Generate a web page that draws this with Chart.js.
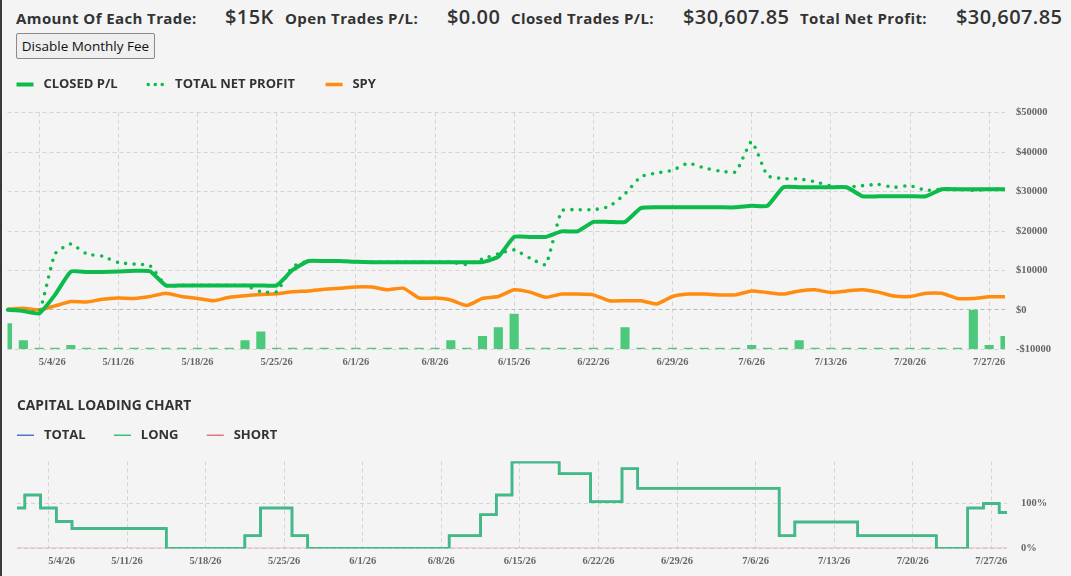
<!DOCTYPE html>
<html lang="en">
  <head>
    <meta charset="UTF-8" />
    <meta name="viewport" content="width=device-width, initial-scale=1.0" />
    <title>Trade Results</title>
    <script src="https://cdn.jsdelivr.net/npm/chart.js"></script>
    <style>
      body {
        margin: 0;
        width: 1071px;
        height: 576px;
        overflow: hidden;
        position: relative;
        background: #f4f4f4;
        font-family: "Open Sans", sans-serif;
        color: #333;
      }
      .edge { position: absolute; left: 0; top: 0; bottom: 0; width: 2px; background: #3a3a3a; }
      .lbl { position: absolute; top: 8px; font-size: 15px; font-weight: 700; letter-spacing: 0.4px; line-height: 20px; white-space: nowrap; }
      .val { position: absolute; top: 4px; font-size: 20px; font-weight: 600; letter-spacing: 0.4px; line-height: 26px; white-space: nowrap; }
      button {
        position: absolute; left: 16px; top: 33px; width: 139px; height: 26px; padding: 0;
        font: 13.5px "Open Sans", sans-serif; color: #111;
        background: #efefef; border: 1px solid #8a8a8a; border-radius: 2px;
      }
      .box { position: absolute; left: 0; width: 1071px; }
    </style>
  </head>
  <body>
    <div class="edge"></div>
    <span class="lbl" style="left: 16px">Amount Of Each Trade:</span>
    <span class="val" style="left: 225px">$15K</span>
    <span class="lbl" style="left: 285px">Open Trades P/L:</span>
    <span class="val" style="left: 447px">$0.00</span>
    <span class="lbl" style="left: 511px">Closed Trades P/L:</span>
    <span class="val" style="left: 683px">$30,607.85</span>
    <span class="lbl" style="left: 800px">Total Net Profit:</span>
    <span class="val" style="left: 956px">$30,607.85</span>
    <button>Disable Monthly Fee</button>

    <div class="box" style="top: 64px; height: 310px"><canvas id="plChart"></canvas></div>
    <div class="box" style="top: 390px; height: 186px"><canvas id="capChart"></canvas></div>

    <script type="module">
      const dates = [
        "4/30/26", "5/1/26",
        "5/4/26", "5/5/26", "5/6/26", "5/7/26", "5/8/26",
        "5/11/26", "5/12/26", "5/13/26", "5/14/26", "5/15/26",
        "5/18/26", "5/19/26", "5/20/26", "5/21/26", "5/22/26",
        "5/25/26", "5/26/26", "5/27/26", "5/28/26", "5/29/26",
        "6/1/26", "6/2/26", "6/3/26", "6/4/26", "6/5/26",
        "6/8/26", "6/9/26", "6/10/26", "6/11/26", "6/12/26",
        "6/15/26", "6/16/26", "6/17/26", "6/18/26", "6/19/26",
        "6/22/26", "6/23/26", "6/24/26", "6/25/26", "6/26/26",
        "6/29/26", "6/30/26", "7/1/26", "7/2/26", "7/3/26",
        "7/6/26", "7/7/26", "7/8/26", "7/9/26", "7/10/26",
        "7/13/26", "7/14/26", "7/15/26", "7/16/26", "7/17/26",
        "7/20/26", "7/21/26", "7/22/26", "7/23/26", "7/24/26",
        "7/27/26", "7/28/26",
      ];
      // only Mondays get a label and a grid line
      const tickDates = [
        "5/4/26", "5/11/26", "5/18/26", "5/25/26", "6/1/26", "6/8/26", "6/15/26",
        "6/22/26", "6/29/26", "7/6/26", "7/13/26", "7/20/26", "7/27/26",
      ];
      const capitalTicks = [0, 100];

      const closedPL = [
        0, -300,
        -900, 3800, 9700, 9600, 9600,
        9700, 9900, 9800, 6200, 6200,
        6200, 6200, 6200, 6200, 6200,
        6200, 10100, 12400, 12400, 12400,
        12200, 12100, 12100, 12100, 12100,
        12100, 12100, 12100, 12100, 13500,
        18500, 18500, 18500, 19900, 19900,
        22300, 22300, 22300, 25800, 26000,
        26000, 26000, 26000, 26000, 26000,
        26400, 26400, 31100, 31100, 31100,
        31100, 31100, 28800, 28800, 28800,
        28800, 28800, 30600, 30600, 30600,
        30600, 30608,
      ];
      const totalNetProfit = [
        0, -200,
        -500, 14200, 16700, 14200, 13600,
        12000, 11600, 11200, 6200, 6200,
        6200, 6200, 6200, 6200, 4600,
        4600, 10900, 12400, 12400, 12400,
        12200, 12100, 12100, 12100, 12100,
        12100, 12100, 11500, 12900, 14200,
        15200, 13100, 11500, 25100, 25400,
        25400, 26200, 29400, 33800, 34700,
        35400, 37200, 36000, 35200, 35000,
        42700, 34000, 33300, 33200, 32500,
        31400, 31100, 31500, 31800, 31100,
        31500, 30300, 30600, 30600, 30300,
        30600, 30608,
      ];
      const spy = [
        200, 400,
        0, 1000, 2100, 2000, 2700,
        3000, 2900, 3400, 4200, 3400,
        2900, 2300, 3200, 3600, 3900,
        4100, 4600, 4800, 5200, 5500,
        5800, 5800, 5100, 5500, 3000,
        3000, 2500, 1100, 2900, 3400,
        5100, 4500, 3200, 4000, 4000,
        3800, 2300, 2300, 2300, 1500,
        3400, 4000, 4000, 3800, 3800,
        4800, 4400, 4000, 4800, 5100,
        4400, 4800, 5100, 4500, 3500,
        3400, 4200, 4200, 2900, 2900,
        3300, 3300,
      ];
      const dailyBars = [
        6600, 2300,
        0, 0, 1100, 0, 0,
        0, 0, 0, 0, 0,
        0, 0, 0, 2300, 4500,
        0, 0, 0, 0, 0,
        0, 0, 0, 0, 0,
        0, 2300, 0, 3400, 5600,
        9000, 0, 0, 0, 0,
        0, 0, 5600, 0, 0,
        0, 0, 0, 0, 0,
        1100, 0, 0, 2300, 0,
        0, 0, 0, 0, 0,
        0, 0, 0, 0, 10000,
        1100, 3400,
      ];

      // capital loading, percent of account
      const longPct = [
        89, 118,
        89, 59, 44, 44, 44,
        44, 44, 44, 0, 0,
        0, 0, 0, 28, 89,
        89, 28, 0, 0, 0,
        0, 0, 0, 0, 0,
        0, 28, 28, 74, 118,
        191, 191, 191, 165, 165,
        103, 103, 176, 133, 133,
        133, 133, 133, 133, 133,
        133, 133, 28, 58, 58,
        58, 58, 28, 28, 28,
        28, 28, 0, 0, 89,
        99, 79,
      ];
      const shortPct = [
        0, 0,
        0, 0, 0, 0, 0,
        0, 0, 0, 0, 0,
        0, 0, 0, 0, 0,
        0, 0, 0, 0, 0,
        0, 0, 0, 0, 0,
        0, 0, 0, 0, 0,
        0, 0, 0, 0, 0,
        0, 0, 0, 0, 0,
        0, 0, 0, 0, 0,
        0, 0, 0, 0, 0,
        0, 0, 0, 0, 0,
        0, 0, 0, 0, 0,
        0, 0,
      ];
      const totalPct = [
        89, 118,
        89, 59, 44, 44, 44,
        44, 44, 44, 0, 0,
        0, 0, 0, 28, 89,
        89, 28, 0, 0, 0,
        0, 0, 0, 0, 0,
        0, 28, 28, 74, 118,
        191, 191, 191, 165, 165,
        103, 103, 176, 133, 133,
        133, 133, 133, 133, 133,
        133, 133, 28, 58, 58,
        58, 58, 28, 28, 28,
        28, 28, 0, 0, 89,
        99, 79,
      ];

      const GRID = "#d4d4d4";
      const TICK_FONT = { family: "'Liberation Serif', serif", size: 10.5, weight: "bold" };
      const LEGEND_FONT = { family: "'Open Sans', sans-serif", size: 13, weight: "bold" };

      await Promise.all([
        document.fonts.load("bold 10.5px 'Liberation Serif'"),
        document.fonts.load("bold 13px 'Open Sans'"),
      ]).catch(() => {});

      const dateTick = (value, index) => {
        const label = dates[index];
        if (!tickDates.includes(label)) return "";
        // the first Monday label starts at its grid line instead of centring on it
        return label === tickDates[0] ? " ".repeat(10) + label : label;
      };
      const mondayGrid = (c) => (tickDates.includes(dates[c.index]) ? GRID : "rgba(0,0,0,0)");

      const lineLegend = (gap, swatchWidth) => (chart) =>
        chart.data.datasets
          .map((ds, i) => ({ ds, i }))
          .filter(({ ds }) => ds.type !== "bar")
          .map(({ ds, i }) => ({
            text: " " + ds.label + gap,
            fontColor: "#333",
            strokeStyle: ds.swatchColor || ds.borderColor,
            fillStyle: ds.swatchColor || ds.borderColor,
            lineWidth: swatchWidth || ds.borderWidth,
            lineDash: ds.swatchDash || [],
            lineCap: ds.borderCapStyle || "butt",
            pointStyle: "line",
            hidden: !chart.isDatasetVisible(i),
            datasetIndex: i,
          }));

      // push the plot a bit further away from the legend
      const legendSpace = (extra) => ({
        id: "legendSpace",
        beforeInit(chart) {
          const fit = chart.legend.fit;
          chart.legend.fit = function () {
            fit.call(this);
            this.height += extra;
          };
        },
      });

      new Chart("plChart", {
        type: "line",
        data: {
          labels: dates,
          datasets: [
            {
              type: "line",
              label: "CLOSED P/L",
              data: closedPL,
              borderColor: "#0cbb4b",
              borderWidth: 4,
              pointRadius: 0,
              tension: 0.15,
              order: 1,
            },
            {
              type: "line",
              label: "TOTAL NET PROFIT",
              data: totalNetProfit,
              borderColor: "#0cbb4b",
              borderWidth: 3.6,
              borderDash: [0, 8.5],
              borderCapStyle: "round",
              swatchDash: [0, 7],
              pointRadius: 0,
              tension: 0.15,
              order: 2,
            },
            {
              type: "line",
              label: "SPY",
              data: spy,
              borderColor: "#ff8c0f",
              borderWidth: 3.5,
              pointRadius: 0,
              tension: 0.15,
              order: 3,
            },
            {
              type: "bar",
              label: "DAILY",
              data: dailyBars,
              yAxisID: "yBar",
              backgroundColor: "rgb(76, 201, 122)",
              barPercentage: 0.9,
              categoryPercentage: 0.64,
              minBarLength: 1.5,
              order: 4,
            },
          ],
        },
        options: {
          responsive: true,
          maintainAspectRatio: false,
          animation: false,
          layout: { padding: { left: 7.5, right: 0, top: 5, bottom: 0 } },
          plugins: {
            legend: {
              align: "start",
              labels: {
                usePointStyle: true,
                pointStyleWidth: 17,
                padding: 9,
                color: "#333",
                font: LEGEND_FONT,
                generateLabels: lineLegend("      \u200a"),
              },
            },
            tooltip: { mode: "index", intersect: false },
          },
          scales: {
            x: {
              offset: false,
              grid: { offset: false, drawTicks: false, color: mondayGrid },
              border: { display: false, dash: [4, 3] },
              ticks: { autoSkip: false, maxRotation: 0, padding: 7, color: "#666", font: TICK_FONT, callback: dateTick },
              afterFit: (scale) => { scale.height = 24.7; },
            },
            y: {
              position: "right",
              min: -10000,
              max: 50000,
              ticks: {
                stepSize: 10000,
                padding: 11,
                color: "#666",
                font: TICK_FONT,
                callback: (v) => (v < 0 ? "-$" : "$") + Math.abs(v),
              },
              grid: { drawTicks: false, color: (c) => (c.tick.value === 0 ? "#b8b8b8" : GRID) },
              border: { display: false, dash: [4, 3] },
              afterFit: (scale) => { scale.width = 66; },
            },
            yBar: { display: false, min: 0, max: 60000 },
          },
        },
        plugins: [legendSpace(11.7)],
      });

      new Chart("capChart", {
        type: "line",
        data: {
          labels: dates,
          datasets: [
            { type: "line", label: "TOTAL", data: totalPct, borderColor: "#4a78c8", borderWidth: 2.5, stepped: "middle", pointRadius: 0, order: 2 },
            { type: "line", label: "LONG", data: longPct, borderColor: "#3cbf7c", borderWidth: 2.5, stepped: "middle", pointRadius: 0, order: 1 },
            {
              type: "line",
              label: "SHORT",
              data: shortPct,
              borderColor: "rgba(224, 110, 110, 0.5)",
              swatchColor: "#e07a7a",
              borderWidth: 1.5,
              stepped: "middle",
              pointRadius: 0,
              order: 3,
            },
          ],
        },
        options: {
          responsive: true,
          maintainAspectRatio: false,
          animation: false,
          layout: { padding: { left: 17, right: 0, top: 0, bottom: 0 } },
          plugins: {
            title: {
              display: true,
              text: "CAPITAL LOADING CHART",
              align: "start",
              color: "#333",
              font: { family: "'Open Sans', sans-serif", size: 13.8, weight: "bold" },
              padding: { top: 7.6, bottom: 14.6 },
            },
            legend: {
              align: "start",
              labels: {
                usePointStyle: true,
                pointStyleWidth: 17,
                padding: 0,
                color: "#333",
                font: LEGEND_FONT,
                generateLabels: lineLegend("        \u200a", 1.5),
              },
            },
            tooltip: { mode: "index", intersect: false },
          },
          scales: {
            x: {
              offset: false,
              grid: { offset: false, drawTicks: false, color: mondayGrid },
              border: { display: false, dash: [4, 3] },
              ticks: { autoSkip: false, maxRotation: 0, padding: 6.5, color: "#666", font: TICK_FONT, callback: dateTick },
              afterFit: (scale) => { scale.height = 27.7; },
            },
            y: {
              position: "right",
              min: 0,
              max: 192,
              afterBuildTicks: (scale) => { scale.ticks = capitalTicks.map((value) => ({ value })); },
              ticks: {
                padding: 14,
                color: "#666",
                font: TICK_FONT,
                callback: (v) => v + "%",
              },
              grid: { drawTicks: false, color: GRID },
              border: { display: false, dash: [4, 3] },
              afterFit: (scale) => { scale.width = 64; },
            },
          },
        },
        plugins: [legendSpace(9.7)],
      });
    </script>
  </body>
</html>
